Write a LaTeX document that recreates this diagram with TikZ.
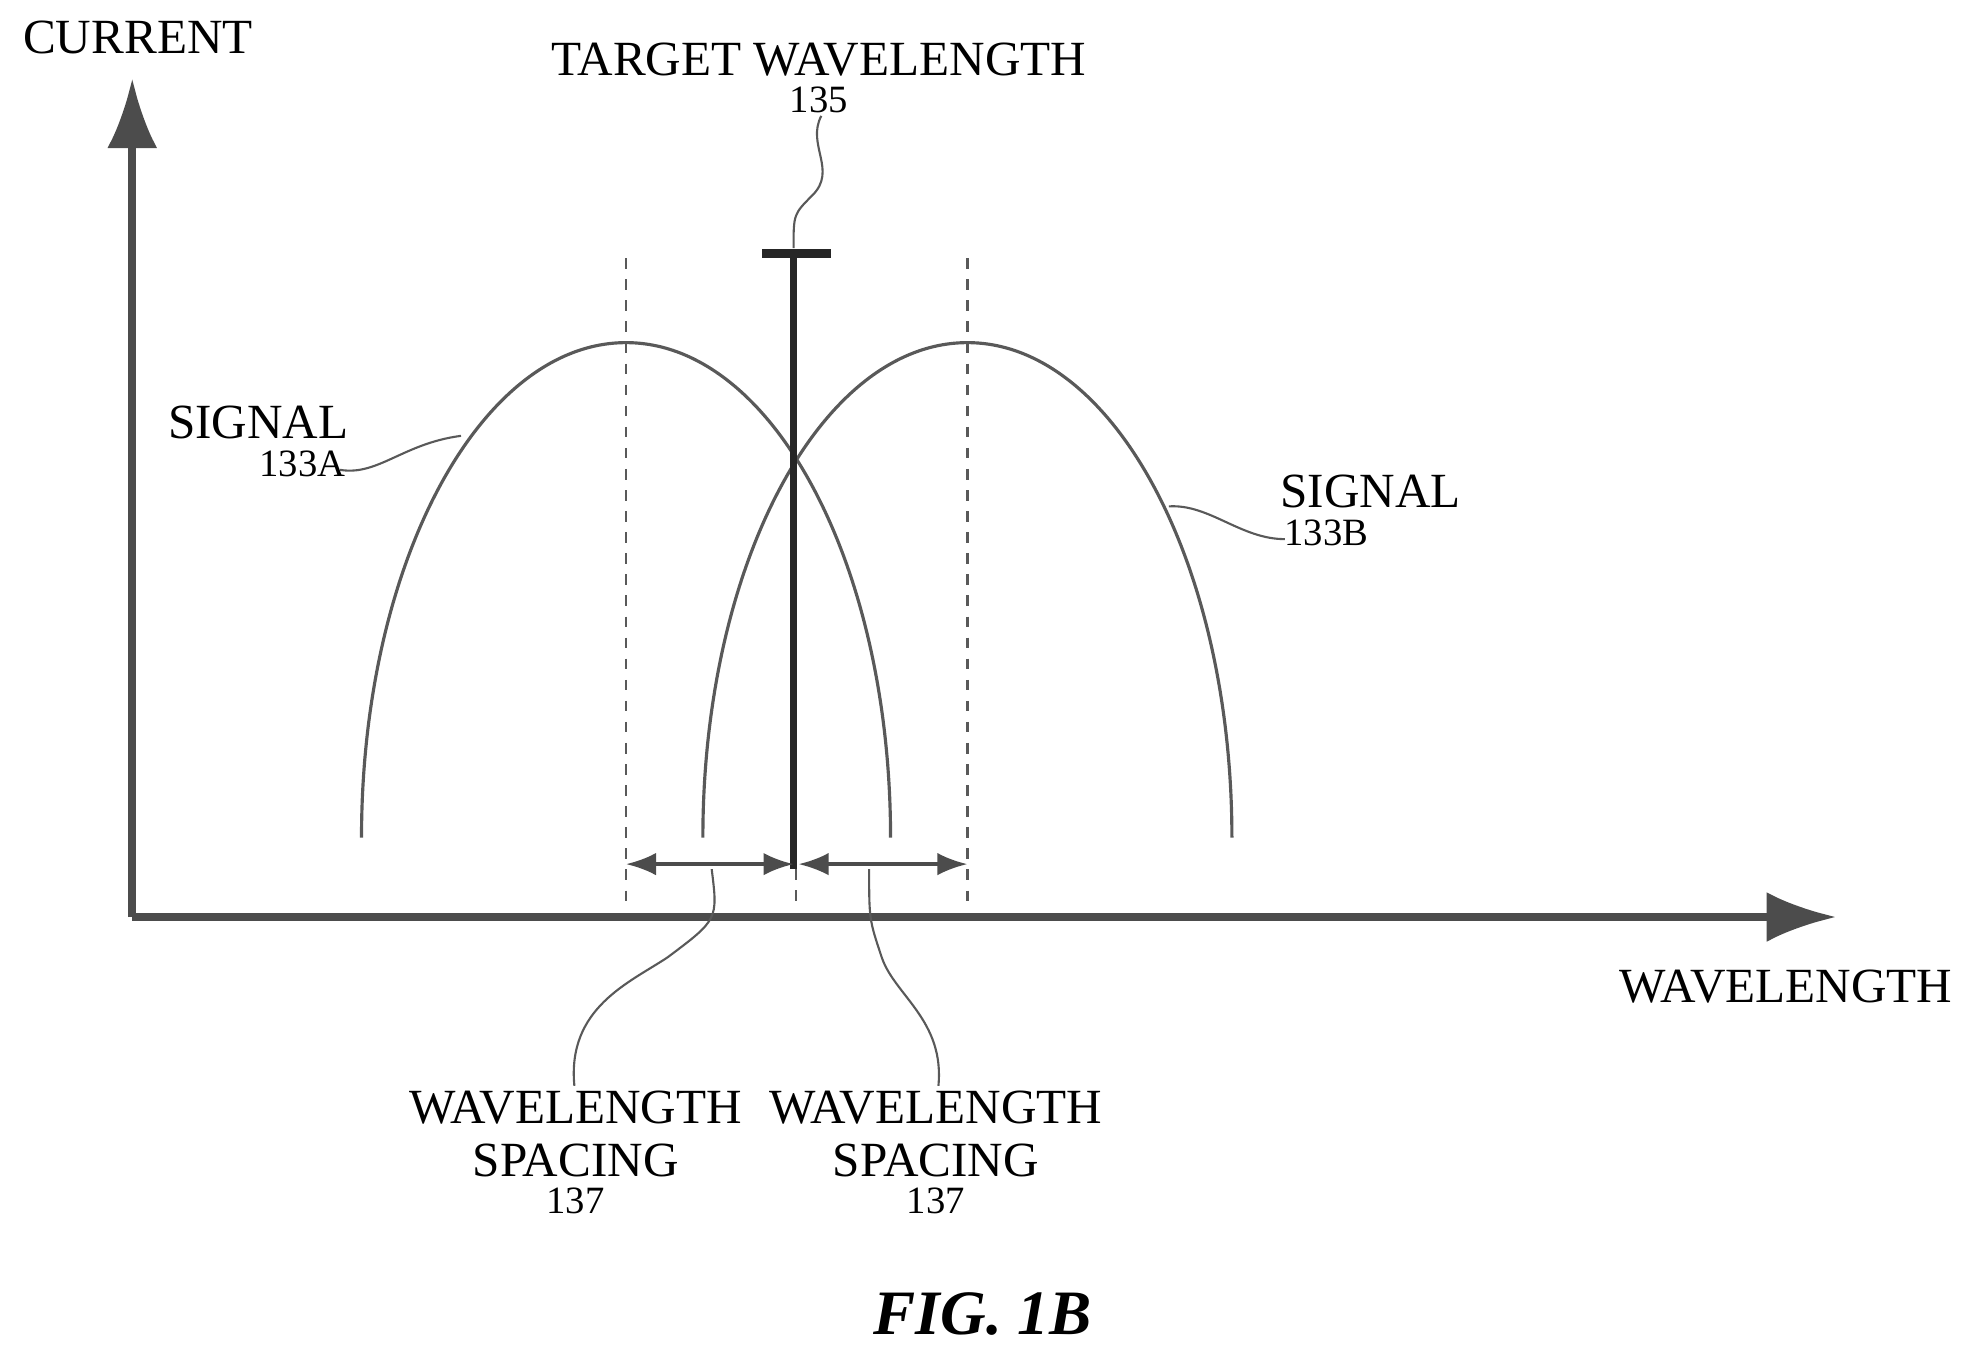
\documentclass[tikz,border=0pt]{standalone}
\usepackage{fontspec}
\setmainfont{Liberation Serif}
\usetikzlibrary{arrows.meta}
\tikzset{>={Stealth[scale=1]}}
\tikzset{lbl/.style={font=\fontsize{14}{15}\selectfont, align=center, inner sep=1pt},
         num/.style={font=\fontsize{11}{12}\selectfont, inner sep=1pt},
         lead/.style={gray!70!black, line width=0.6pt},
         guide/.style={gray!70!black, dashed, line width=0.7pt}}
\begin{document}
\begin{tikzpicture}[x=0.0126cm, y=-0.0126cm]
\useasboundingbox (0,0) rectangle (1560,1069);
% axes
\coordinate (o) at (105,728);
\coordinate (ytop) at (105,62);
\coordinate (xend) at (1458,728);
\draw[gray!60!black, line width=2.2pt, -{Latex[length=7mm, width=5mm]}] (o) -- (ytop);
\draw[gray!60!black, line width=2.2pt, -{Latex[length=7mm, width=5mm]}] (o) -- (xend);
\node[lbl, anchor=west] (cur) at (15,30) {CURRENT};
\node[lbl] (wl) at (1418,783) {WAVELENGTH};
% dashed guides
\draw[guide] (497,205) -- (497,722);
\draw[guide] (768,205) -- (768,722);
\draw[guide] (632,690) -- (632,722);
% signals
\draw[gray!70!black, line width=0.9pt] (287,665) arc[start angle=180, end angle=0, x radius=210, y radius=-393];
\draw[gray!70!black, line width=0.9pt] (558,665) arc[start angle=180, end angle=0, x radius=210, y radius=-393];
% target
\draw[gray!30!black, line width=1.8pt] (630,200) -- (630,690);
\draw[gray!30!black, line width=2.5pt] (605,201) -- (660,201);
\node[lbl] (tw) at (650,47) {TARGET WAVELENGTH};
\node[num] (twn) at (650,79) {135};
\draw[lead] (652,92) .. controls (640,115) and (665,135) .. (645,155) .. controls (630,170) .. (630,197);
% spacing arrows
\draw[gray!60!black, line width=1pt, {Latex[length=3mm]}-{Latex[length=3mm]}] (497,686) -- (630,686);
\draw[gray!60!black, line width=1pt, {Latex[length=3mm]}-{Latex[length=3mm]}] (634,686) -- (768,686);
% labels
\node[lbl] (sa) at (205,335) {SIGNAL};
\node[num] (na) at (240,368) {133A};
\draw[lead] (270,373) .. controls (300,378) and (320,352) .. (366,346);
\node[lbl] (sb) at (1088,390) {SIGNAL};
\node[num] (nb) at (1053,423) {133B};
\draw[lead] (1020,428) .. controls (985,428) and (960,400) .. (928,402);
\node[lbl] (s1) at (457,900) {WAVELENGTH\\SPACING};
\node[num] (s1n) at (457,953) {137};
\node[lbl] (s2) at (743,900) {WAVELENGTH\\SPACING};
\node[num] (s2n) at (743,953) {137};
\draw[lead] (456,862) .. controls (450,800) and (500,780) .. (530,760) .. controls (570,730) .. (565,690);
\draw[lead] (745,862) .. controls (750,810) and (710,790) .. (700,760) .. controls (690,730) .. (690,690);
\node[font=\fontsize{18}{20}\selectfont\bfseries\itshape] (fig) at (780,1043) {FIG. 1B};
\end{tikzpicture}
\end{document}
